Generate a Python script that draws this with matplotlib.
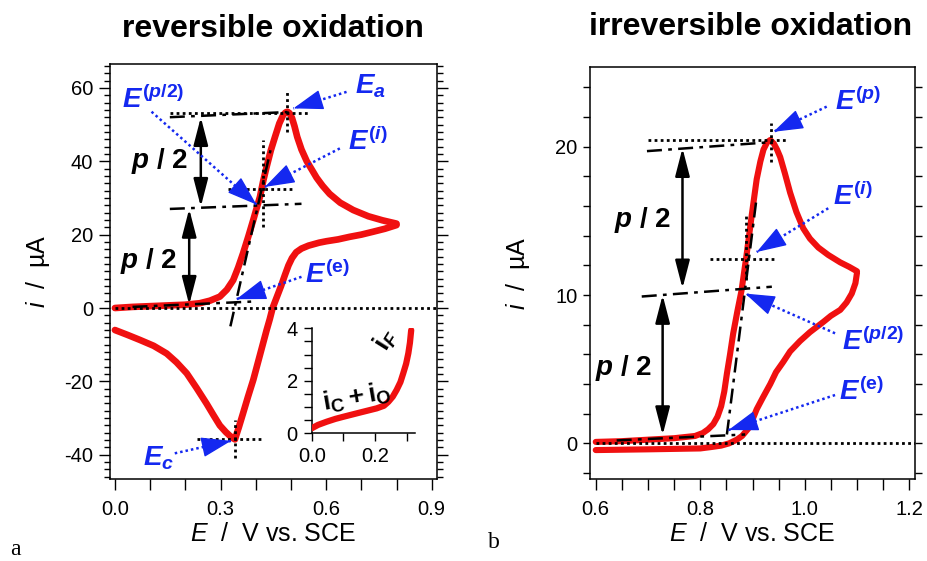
import matplotlib
matplotlib.use("Agg")
import matplotlib.pyplot as plt
from matplotlib.ticker import MultipleLocator, FixedLocator

plt.rcParams.update({
    "font.family": "Liberation Sans",
    "mathtext.fontset": "custom",
    "mathtext.rm": "Liberation Sans:bold",
    "mathtext.it": "Liberation Sans:italic:bold",
    "mathtext.bf": "Liberation Sans:bold",
    "mathtext.sf": "Liberation Sans:italic",
    "axes.unicode_minus": False,
    "axes.linewidth": 1.1,
})

RED, BLUE = "#f01010", "#1428f0"

# ---- panel a: reversible CV (E / V, i / uA)
A_FWD_E = [0.00, 0.05, 0.10, 0.15, 0.20, 0.241, 0.27, 0.298, 0.318, 0.336, 0.350,
           0.364, 0.379, 0.393, 0.402, 0.412, 0.421, 0.431, 0.443, 0.455, 0.467,
           0.478, 0.485, 0.490, 0.496, 0.503, 0.510, 0.518, 0.530, 0.545, 0.560,
           0.573, 0.590, 0.610, 0.640, 0.677, 0.720, 0.760, 0.800]
A_FWD_I = [0.0, 0.3, 0.5, 0.7, 0.9, 1.3, 2.0, 3.1, 5.0, 7.6, 11.0,
           14.9, 19.5, 24.0, 27.0, 30.3, 34.5, 38.5, 43.0, 46.7, 50.3,
           52.6, 53.3, 53.5, 53.1, 51.8, 49.6, 46.6, 43.2, 40.0, 37.6,
           35.5, 33.3, 31.1, 28.7, 26.7, 25.0, 23.9, 23.0]
A_REV_E = [0.800, 0.767, 0.734, 0.700, 0.667, 0.634, 0.601, 0.580, 0.550, 0.530,
           0.515, 0.503, 0.493, 0.483, 0.472, 0.460, 0.448, 0.440, 0.431, 0.412,
           0.393, 0.378, 0.364, 0.352, 0.345, 0.341, 0.334, 0.325, 0.315, 0.298,
           0.280, 0.260, 0.232, 0.204, 0.175, 0.147, 0.110, 0.071, 0.035, 0.000]
A_REV_I = [22.6, 21.6, 20.8, 20.0, 19.4, 18.7, 18.2, 17.8, 17.0, 16.2,
           15.2, 13.6, 11.6, 9.0, 6.0, 3.0, 0.0, -3.0, -6.0, -12.8,
           -19.6, -24.2, -28.7, -32.5, -34.6, -35.8, -35.4, -34.7, -33.8, -32.0,
           -29.2, -26.0, -21.8, -17.8, -14.8, -12.4, -10.3, -8.7, -7.3, -6.0]
# inset: background current
IN_E = [0.0, 0.02, 0.047, 0.075, 0.10, 0.152, 0.205, 0.228, 0.242, 0.256, 0.268,
        0.280, 0.289, 0.298, 0.305, 0.310, 0.314]
IN_I = [0.19, 0.32, 0.44, 0.55, 0.63, 0.79, 0.95, 1.05, 1.2, 1.4, 1.65,
        1.95, 2.29, 2.65, 3.05, 3.45, 3.93]

# ---- panel b: irreversible CV
B_FWD_E = [0.60, 0.65, 0.70, 0.75, 0.79, 0.805, 0.815, 0.825, 0.833, 0.840, 0.846,
           0.851, 0.857, 0.863, 0.871, 0.879, 0.889, 0.899, 0.908, 0.915, 0.921,
           0.928, 0.934, 0.941, 0.947, 0.953, 0.962, 0.972, 0.984, 0.997, 1.010,
           1.026, 1.045, 1.068, 1.085, 1.100]
B_FWD_I = [0.1, 0.15, 0.25, 0.35, 0.5, 0.7, 0.95, 1.3, 1.8, 2.5, 3.5,
           4.7, 6.0, 7.4, 8.9, 10.3, 12.8, 15.5, 17.8, 19.0, 19.8,
           20.3, 20.45, 20.2, 19.8, 19.3, 18.2, 16.9, 15.6, 14.5, 13.8,
           13.2, 12.7, 12.2, 11.9, 11.6]
B_REV_E = [1.100, 1.097, 1.090, 1.080, 1.068, 1.050, 1.036, 1.010, 0.991, 0.972,
           0.959, 0.945, 0.934, 0.920, 0.908, 0.900, 0.892, 0.880, 0.870, 0.855,
           0.840, 0.820, 0.800, 0.700, 0.600]
B_REV_I = [11.5, 10.8, 10.1, 9.5, 9.0, 8.6, 8.2, 7.5, 6.9, 6.2,
           5.5, 4.8, 4.0, 3.1, 2.3, 1.6, 1.0, 0.5, 0.25, 0.0,
           -0.15, -0.25, -0.34, -0.4, -0.45]

# construction lines: (E0, E1), (i0, i1)
A_DOTTED = [((0.0, 0.915), (0, 0)), ((0.156, 0.549), (53.2, 53.2)), ((0.49, 0.49), (48, 59)),
            ((0.322, 0.507), (32.4, 32.4)), ((0.421, 0.421), (22.2, 45.8)),
            ((0.232, 0.417), (-35.8, -35.8)), ((0.341, 0.341), (-41, -30.5))]
A_DASHDOT = [((0.05, 0.40), (0.3, 1.8)), ((0.156, 0.49), (52.0, 53.4)),
             ((0.156, 0.53), (27.0, 28.4)), ((0.328, 0.442), (-5, 43))]
A_HALF = [(0.244, 52.0, 27.6), (0.211, 27.0, 0.9)]
A_HALF_TXT = [(0.047, 38.1), (0.014, 10.8)]
A_LABELS = [(r"$E^{(p/2)}$", (0.02, 54.4), (0.104, 53.5), (0.402, 28.2)),
            (r"$E_a$", (0.682, 58.5), (0.658, 58.9), (0.507, 54.4)),
            (r"$E^{(i)}$", (0.663, 43.0), (0.639, 43.5), (0.426, 33.0)),
            (r"$E^{(\mathrm{e})}$", (0.540, 6.7), (0.530, 8.5), (0.345, 2.4)),
            (r"$E_c$", (0.080, -42.8), (0.17, -39.6), (0.33, -36.2))]

B_DOTTED = [((0.6, 1.211), (0, 0)), ((0.70, 0.966), (20.45, 20.45)), ((0.935, 0.935), (19.0, 21.6)),
            ((0.819, 0.943), (12.4, 12.4)), ((0.887, 0.887), (11.0, 15.4))]
B_DASHDOT = [((0.64, 0.886), (0.2, 0.6)), ((0.698, 0.934), (19.7, 20.3)),
             ((0.688, 0.937), (9.9, 10.56)), ((0.851, 0.908), (0.6, 16.6))]
B_HALF = [(0.766, 19.9, 10.45), (0.728, 10.0, 0.56)]
B_HALF_TXT = [(0.634, 14.6), (0.599, 4.6)]
B_LABELS = [(r"$E^{(p)}$", (1.058, 22.47), (1.042, 22.7), (0.94, 21.0)),
            (r"$E^{(i)}$", (1.055, 16.07), (1.045, 15.85), (0.908, 12.9)),
            (r"$E^{(p/2)}$", (1.071, 6.29), (1.058, 7.42), (0.886, 10.1)),
            (r"$E^{(\mathrm{e})}$", (1.066, 2.92), (1.058, 3.26), (0.854, 0.9))]

DOT = (0, (1, 1.2))
DASHDOT = (0, (6, 2.5, 1.5, 2.5))
CURVE = dict(color=RED, solid_capstyle="round", solid_joinstyle="round", zorder=3)


def blue_arrow(ax, start, tip):
    ax.plot([start[0], tip[0]], [start[1], tip[1]], color=BLUE, lw=1.8, ls=DOT, zorder=6)
    back = (tip[0] + 0.12 * (start[0] - tip[0]), tip[1] + 0.12 * (start[1] - tip[1]))
    ax.annotate("", xy=tip, xytext=back, zorder=7,
                arrowprops=dict(arrowstyle="-|>,head_length=0.95,head_width=0.32",
                                mutation_scale=20, lw=1.0, color=BLUE,
                                shrinkA=0, shrinkB=0))


def decorate(ax, dotted, dashdot, halves, half_txt, labels):
    for xs, ys in dotted:
        ax.plot(xs, ys, color="k", lw=2.0, ls=DOT, zorder=4)
    for xs, ys in dashdot:
        ax.plot(xs, ys, color="k", lw=1.8, ls=DASHDOT, zorder=4)
    for x, y0, y1 in halves:
        ax.annotate("", xy=(x, y1), xytext=(x, y0), zorder=5,
                    arrowprops=dict(arrowstyle="<|-|>,head_length=0.85,head_width=0.22",
                                    mutation_scale=20, lw=1.8, color="k",
                                    shrinkA=0, shrinkB=0))
    for x, y in half_txt:
        ax.text(x, y, r"$p$ / 2", fontsize=20, fontweight="bold", va="baseline", zorder=6)
    for txt, (tx, ty), start, tip in labels:
        ax.text(tx, ty, txt, fontsize=20, color=BLUE, va="baseline", zorder=6)
        blue_arrow(ax, start, tip)


def style(ax, ymaj, ymin, xmaj, xmin, ylen):
    ax.yaxis.set_major_locator(MultipleLocator(ymaj))
    ax.yaxis.set_minor_locator(MultipleLocator(ymin))
    ax.xaxis.set_major_locator(MultipleLocator(xmaj))
    ax.xaxis.set_minor_locator(MultipleLocator(xmin))
    ax.tick_params(axis="y", which="both", direction="out", left=True, right=True,
                   labelsize=14.5, width=1.0)
    ax.tick_params(axis="y", which="major", length=ylen[0], pad=4)
    ax.tick_params(axis="y", which="minor", length=ylen[1])
    ax.tick_params(axis="x", which="both", direction="out", length=8, width=1.0,
                   labelsize=14.5, pad=7, top=False)
    ax.set_xlabel(r"$\mathsf{E}$  /  V vs. SCE", fontsize=18, labelpad=2)
    ax.set_ylabel(r"$\mathsf{i}$  /  µA", fontsize=18)
    ax.yaxis.set_label_coords(-0.178, 0.5)
    ax.xaxis.set_major_formatter(lambda v, p: f"{v:.1f}")


fig = plt.figure(figsize=(9.27, 5.61), dpi=100)

# panel a
ax = fig.add_axes([110 / 927, 1 - 479 / 561, 327 / 927, 415 / 561])
ax.plot(A_FWD_E, A_FWD_I, lw=4.8, **CURVE)
ax.plot(A_REV_E, A_REV_I, lw=4.8, **CURVE)
decorate(ax, A_DOTTED, A_DASHDOT, A_HALF, A_HALF_TXT, A_LABELS)
ax.set_xlim(-0.014, 0.915)
ax.set_ylim(-46.6, 66.5)
style(ax, 20, 2, 0.3, 0.1, (8, 4))

# inset
axi = fig.add_axes([311.7 / 927, 1 - 433.3 / 561, 103.3 / 927, 105 / 561])
axi.set_facecolor("none")
axi.plot(IN_E, IN_I, lw=4.5, **CURVE)
axi.set_xlim(0, 0.326)
axi.set_ylim(0, 4)
for s in ("top", "right"):
    axi.spines[s].set_visible(False)
axi.xaxis.set_major_locator(FixedLocator([0.0, 0.2]))
axi.xaxis.set_minor_locator(FixedLocator([0.1, 0.3]))
axi.yaxis.set_major_locator(FixedLocator([0, 2, 4]))
axi.yaxis.set_minor_locator(MultipleLocator(0.5))
axi.xaxis.set_major_formatter(lambda v, p: f"{v:.1f}")
axi.tick_params(which="both", direction="out", length=6, width=1.0, labelsize=14.5, pad=4)
axi.text(0.143, 1.38, r"$\mathrm{i_C + i_O}$", fontsize=19, rotation=10,
         ha="center", va="center")
axi.text(0.236, 3.55, r"$\mathrm{i}_F$", fontsize=19, rotation=58,
         ha="center", va="center")

# panel b
bx = fig.add_axes([590 / 927, 1 - 479 / 561, 325 / 927, (479 - 67.3) / 561])
bx.plot(B_FWD_E, B_FWD_I, lw=4.4, **CURVE)
bx.plot(B_REV_E, B_REV_I, lw=4.4, **CURVE)
decorate(bx, B_DOTTED, B_DASHDOT, B_HALF, B_HALF_TXT, B_LABELS)
bx.set_xlim(0.589, 1.211)
bx.set_ylim(-2.4, 25.35)
style(bx, 10, 2, 0.2, 0.05, (5, 5))

fig.text(272.5 / 927, 1 - 37.3 / 561, "reversible oxidation", fontsize=23,
         fontweight="bold", ha="center", va="baseline")
fig.text(750.5 / 927, 1 - 35 / 561, "irreversible oxidation", fontsize=23,
         fontweight="bold", ha="center", va="baseline")
fig.text(10 / 927, 1 - 555 / 561, "a", fontsize=17, family="Liberation Serif", va="baseline")
fig.text(488 / 927, 1 - 548 / 561, "b", fontsize=17, family="Liberation Serif", va="baseline")

fig.savefig("out.png", dpi=100)
